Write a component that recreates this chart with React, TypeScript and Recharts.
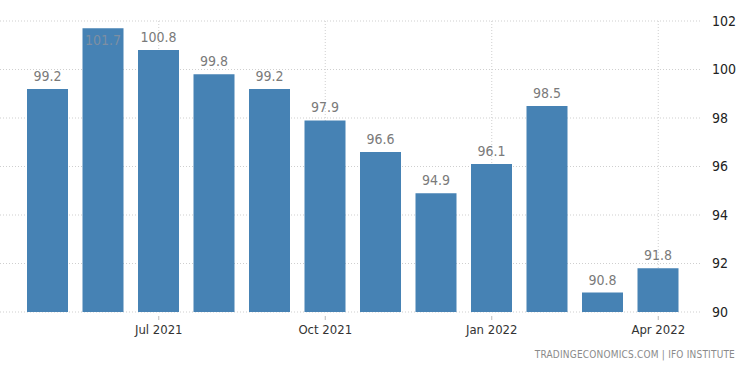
import React from "react";
import {
  BarChart,
  Bar,
  XAxis,
  YAxis,
  CartesianGrid,
  LabelList,
} from "recharts";

const months = [
  "May 2021", "Jun 2021", "Jul 2021", "Aug 2021", "Sep 2021", "Oct 2021",
  "Nov 2021", "Dec 2021", "Jan 2022", "Feb 2022", "Mar 2022", "Apr 2022",
];
const values = [99.2, 101.7, 100.8, 99.8, 99.2, 97.9, 96.6, 94.9, 96.1, 98.5, 90.8, 91.8];
const tickMonths = ["Jul 2021", "Oct 2021", "Jan 2022", "Apr 2022"];
const yTicks = [90, 92, 94, 96, 98, 100, 102];
const source = "TRADINGECONOMICS.COM | IFO INSTITUTE";

const data = months.map((month, i) => ({ month, value: values[i] }));

const FONT = "'Liberation Sans Narrow', 'DejaVu Sans Condensed', 'Liberation Sans', sans-serif";

// labels that would run off the top go inside the bar
const ValueLabel = (props: any) => {
  const { x, y, width, value } = props;
  const inside = value > 101;
  return (
    <text
      x={x + width / 2}
      y={inside ? y + 17 : y - 8}
      textAnchor="middle"
      fill={inside ? "#7d8fa3" : "#7a7a7a"}
      fontSize={14}
      fontFamily={FONT}
    >
      {value.toFixed(1)}
    </text>
  );
};

const MonthTick = (props: any) => {
  const { x, y, payload } = props;
  if (!tickMonths.includes(payload.value)) return null;
  return (
    <g>
      <line x1={x} x2={x} y1={y - 4} y2={y} stroke="#bbb" />
      <text
        x={x}
        y={y + 14}
        textAnchor="middle"
        fill="#333"
        fontSize={13}
        fontFamily={FONT}
      >
        {payload.value}
      </text>
    </g>
  );
};

// vertical grid only at the labelled months, taken from the x scale
const verticalAtTicks = ({ xAxis }: any) => {
  try {
    const scale = xAxis && xAxis.scale;
    if (!scale) return [];
    const map =
      typeof scale === "function"
        ? (v: string) => scale(v)
        : typeof scale.map === "function"
        ? (v: string) => scale.map(v)
        : null;
    if (!map) return [];
    const bw = typeof scale.bandwidth === "function" ? scale.bandwidth() : 0;
    return tickMonths
      .map((m) => map(m) + bw / 2)
      .filter((v) => typeof v === "number" && !isNaN(v));
  } catch (e) {
    return [];
  }
};

export default function App() {
  return (
    <div style={{ position: "absolute", left: 0, top: 0, width: 750, height: 375, background: "#fff" }}>
      <BarChart
        width={750}
        height={375}
        data={data}
        margin={{ top: 21, right: 0, left: 0, bottom: 0 }}
      >
        <CartesianGrid
          stroke="#cfcfcf"
          strokeDasharray="1 2"
          verticalCoordinatesGenerator={verticalAtTicks}
        />
        <XAxis
          dataKey="month"
          height={63}
          padding={{ left: 20, right: 14 }}
          axisLine={false}
          tickLine={false}
          interval={0}
          tick={<MonthTick />}
        />
        <YAxis
          orientation="right"
          width={50}
          domain={[90, 102]}
          ticks={yTicks}
          axisLine={false}
          tickLine={false}
          tickSize={0}
          tickMargin={12}
          tick={{ fill: "#222", fontSize: 14, fontFamily: FONT, textAnchor: "start" }}
        />
        <Bar dataKey="value" fill="#4682b4" barSize={41} isAnimationActive={false}>
          <LabelList dataKey="value" content={<ValueLabel />} />
        </Bar>
      </BarChart>
      <div
        style={{
          position: "absolute",
          right: 15,
          top: 349,
          fontFamily: FONT,
          fontSize: 10,
          color: "#8a8a8a",
          letterSpacing: 0.2,
        }}
      >
        {source}
      </div>
    </div>
  );
}
